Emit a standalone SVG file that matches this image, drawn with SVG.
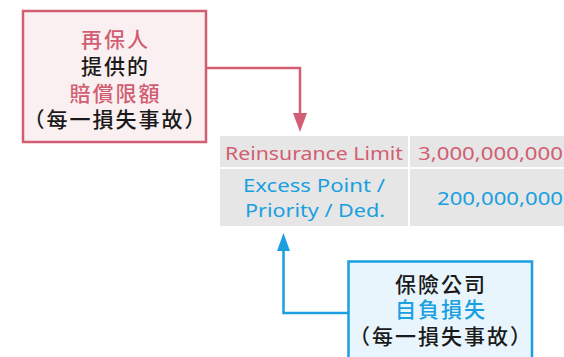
<svg xmlns="http://www.w3.org/2000/svg" width="564" height="357" viewBox="0 0 564 357">
<style>
.cjk{font-family:"Noto Sans CJK TC","Noto Sans CJK JP",sans-serif;font-size:21px;text-anchor:middle;dominant-baseline:central;font-weight:500;letter-spacing:2px}
.lat{font-family:"Noto Sans","DejaVu Sans",sans-serif;font-size:18px;dominant-baseline:central}
.red{fill:#d15e72}
.blue{fill:#1a9fe0}
.blk{fill:#1a1a1a}
.cell{fill:#e6e6e6}
</style>
<rect width="564" height="357" fill="#ffffff"/>
<g id="connectors">
<path d="M206,68 H300 V113" fill="none" stroke="#d15e72" stroke-width="2.5"/>
<path d="M300,113 L293,113 L300,132 L307,113 Z" fill="#d15e72"/>
<path d="M348,313 H283.5 V250" fill="none" stroke="#1a9fe0" stroke-width="2.5"/>
<path d="M283.5,251 L277,251 L283.5,233 L290,251 Z" fill="#1a9fe0"/>
</g>
<g id="reinsurer">
<rect x="23" y="11" width="183" height="131" fill="#fbf0f1" stroke="#d15e72" stroke-width="2.5"/>
<text class="cjk red" x="115.5" y="38">再保人</text>
<text class="cjk blk" x="115.5" y="65">提供的</text>
<text class="cjk red" x="115.5" y="92">賠償限額</text>
<text class="cjk blk" x="115.5" y="118">（每一損失事故）</text>
</g>
<g id="table">
<rect class="cell" x="220" y="136" width="188" height="31"/>
<rect class="cell" x="410" y="136" width="154" height="31"/>
<rect class="cell" x="220" y="169" width="188" height="57"/>
<rect class="cell" x="410" y="169" width="154" height="57"/>
<text class="lat red" x="225" y="153" textLength="178" lengthAdjust="spacingAndGlyphs">Reinsurance Limit</text>
<text class="lat red" x="418" y="153" textLength="145" lengthAdjust="spacingAndGlyphs">3,000,000,000</text>
<text class="lat blue" x="243" y="185" textLength="142" lengthAdjust="spacingAndGlyphs">Excess Point /</text>
<text class="lat blue" x="245" y="210" textLength="140" lengthAdjust="spacingAndGlyphs">Priority / Ded.</text>
<text class="lat blue" x="437" y="198" textLength="126" lengthAdjust="spacingAndGlyphs">200,000,000</text>
</g>
<g id="insurer">
<rect x="348.5" y="261.5" width="183.5" height="110" fill="#e8f5fd" stroke="#1a9fe0" stroke-width="2.5"/>
<text class="cjk blk" x="441" y="283">保險公司</text>
<text class="cjk blue" x="441" y="308">自負損失</text>
<text class="cjk blk" x="441" y="335">（每一損失事故）</text>
</g>
</svg>
